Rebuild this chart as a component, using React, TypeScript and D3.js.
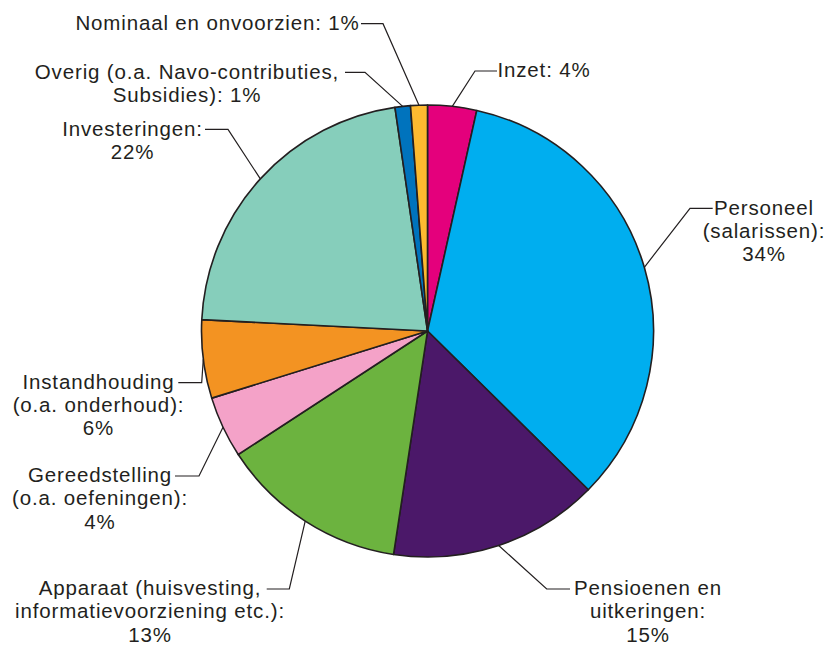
import { useEffect, useRef } from "react";
import * as d3 from "d3";

// slice shares (percent), clockwise from 12 o'clock
const categories = [
  "Inzet",
  "Personeel",
  "Pensioenen",
  "Apparaat",
  "Gereedstelling",
  "Instandhouding",
  "Investeringen",
  "Overig",
  "Nominaal",
];
const values = [3.5, 33.9, 15.0, 13.4, 4.4, 5.6, 21.9, 1.1, 1.2];
const colors = [
  "#e4007c",
  "#00aeef",
  "#4b1869",
  "#6cb33f",
  "#f4a2c8",
  "#f39322",
  "#86cebb",
  "#0073bd",
  "#fdba30",
];
const labelLines = [
  ["Inzet: 4%"],
  ["Personeel", "(salarissen):", "34%"],
  ["Pensioenen en", "uitkeringen:", "15%"],
  ["Apparaat (huisvesting,", "informatievoorziening etc.):", "13%"],
  ["Gereedstelling", "(o.a. oefeningen):", "4%"],
  ["Instandhouding", "(o.a. onderhoud):", "6%"],
  ["Investeringen:", "22%"],
  ["Overig (o.a. Navo-contributies,", "Subsidies): 1%"],
  ["Nominaal en onvoorzien: 1%"],
];

// label placement: leader elbow, end of the horizontal tick, text centre
const labelLayout = [
  { ex: 475, ey: 71, tx: 497, cx: 544 },
  { ex: 690, ey: 208.3, tx: 712.7, cx: 764 },
  { ex: 546.7, ey: 589, tx: 570, cx: 648 },
  { ex: 289.3, ey: 589, tx: 266.7, cx: 150 },
  { ex: 199, ey: 476, tx: 175, cx: 100 },
  { ex: 201.7, ey: 382.7, tx: 178.3, cx: 98.5 },
  { ex: 228, ey: 129.3, tx: 205, cx: 132.5 },
  { ex: 365, ey: 72.3, tx: 345, cx: 187 },
  { ex: 383, ey: 23.7, tx: 361, cx: 217.5 },
];

const width = 829;
const height = 646;
const cx = 427.5;
const cy = 331;
const radius = 226;
const lineHeight = 23.2;
const ink = "#231f20";

export default function App() {
  const svgRef = useRef<SVGSVGElement | null>(null);

  useEffect(() => {
    document.body.style.margin = "0";
    const svg = d3.select(svgRef.current);
    svg.selectAll("*").remove();

    const pie = d3
      .pie<number>()
      .sort(null)
      .value((d) => d);
    const arcs = pie(values);

    const arc = d3
      .arc<d3.PieArcDatum<number>>()
      .innerRadius(0)
      .outerRadius(radius);

    const g = svg.append("g").attr("transform", `translate(${cx},${cy})`);

    g.selectAll("path")
      .data(arcs)
      .enter()
      .append("path")
      .attr("d", arc)
      .attr("fill", (_, i) => colors[i])
      .attr("stroke", ink)
      .attr("stroke-width", 1.6)
      .attr("stroke-linejoin", "round");

    // leader lines from slice mid-angle on the rim
    arcs.forEach((a, i) => {
      const mid = (a.startAngle + a.endAngle) / 2;
      const px = cx + radius * Math.sin(mid);
      const py = cy - radius * Math.cos(mid);
      const l = labelLayout[i];
      svg
        .append("path")
        .attr("d", `M${px},${py}L${l.ex},${l.ey}L${l.tx},${l.ey}`)
        .attr("fill", "none")
        .attr("stroke", ink)
        .attr("stroke-width", 1.2);

      const text = svg
        .append("text")
        .attr("text-anchor", "middle")
        .attr("font-family", "'Liberation Sans', Arial, sans-serif")
        .attr("font-size", 20.5)
        .attr("letter-spacing", 0.85)
        .attr("fill", ink)
        .attr("aria-label", categories[i]);

      labelLines[i].forEach((line, j) => {
        text
          .append("tspan")
          .attr("x", l.cx)
          .attr("y", l.ey + 6.2 + j * lineHeight)
          .text(line);
      });
    });
  }, []);

  return <svg ref={svgRef} width={width} height={height} style={{ display: "block" }}></svg>;
}
